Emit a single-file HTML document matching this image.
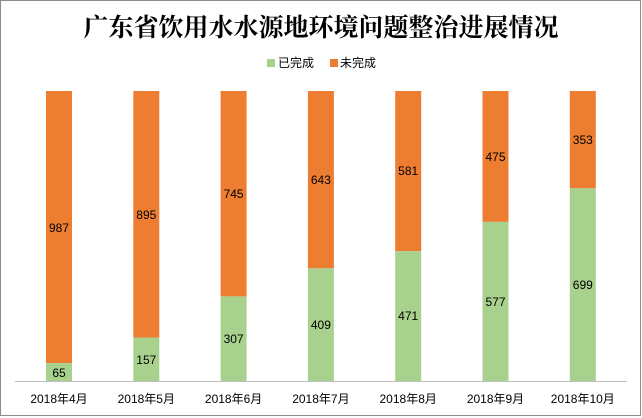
<!DOCTYPE html>
<html><head><meta charset="utf-8"><style>
body{margin:0;background:#fff}
svg{display:block}
text{font-family:"Liberation Sans","Noto Sans CJK SC",sans-serif;font-size:12px;fill:#000}
</style></head><body>
<svg width="642" height="418" viewBox="0 0 642 418" xmlns="http://www.w3.org/2000/svg">
<rect x="0.5" y="0.5" width="640" height="415" fill="#fff" stroke="#8c8c8c"/>
<text x="321" y="36" text-anchor="middle" style="font-family:'Noto Serif CJK SC',serif;font-size:25px;font-weight:bold">广东省饮用水水源地环境问题整治进展情况</text>
<rect x="267" y="59" width="8" height="8" fill="#a9d18e"/>
<text x="278" y="67">已完成</text>
<rect x="330" y="59" width="8" height="8" fill="#ed7d31"/>
<text x="340" y="67">未完成</text>
<g id="bars"></g>
<line x1="15" y1="381.5" x2="627" y2="381.5" stroke="#bfbfbf"/>
<g text-anchor="middle">
<rect x="46" y="91" width="26" height="272.1" fill="#ed7d31"/><rect x="46" y="363.1" width="26" height="17.9" fill="#a9d18e"/>
<text x="59" y="232">987</text><text x="59" y="377">65</text><text x="59" y="403">2018年4月</text>
<rect x="133.3" y="91" width="26" height="246.7" fill="#ed7d31"/><rect x="133.3" y="337.7" width="26" height="43.3" fill="#a9d18e"/>
<text x="146.3" y="219">895</text><text x="146.3" y="364">157</text><text x="146.3" y="403">2018年5月</text>
<rect x="220.6" y="91" width="26" height="205.4" fill="#ed7d31"/><rect x="220.6" y="296.4" width="26" height="84.6" fill="#a9d18e"/>
<text x="233.6" y="198">745</text><text x="233.6" y="343">307</text><text x="233.6" y="403">2018年6月</text>
<rect x="307.9" y="91" width="26" height="177.3" fill="#ed7d31"/><rect x="307.9" y="268.3" width="26" height="112.7" fill="#a9d18e"/>
<text x="320.9" y="184">643</text><text x="320.9" y="329">409</text><text x="320.9" y="403">2018年7月</text>
<rect x="395.2" y="91" width="26" height="160.2" fill="#ed7d31"/><rect x="395.2" y="251.2" width="26" height="129.8" fill="#a9d18e"/>
<text x="408.2" y="175">581</text><text x="408.2" y="320">471</text><text x="408.2" y="403">2018年8月</text>
<rect x="482.5" y="91" width="26" height="130.9" fill="#ed7d31"/><rect x="482.5" y="221.9" width="26" height="159.1" fill="#a9d18e"/>
<text x="495.5" y="161">475</text><text x="495.5" y="306">577</text><text x="495.5" y="403">2018年9月</text>
<rect x="569.8" y="91" width="26" height="97.3" fill="#ed7d31"/><rect x="569.8" y="188.3" width="26" height="192.7" fill="#a9d18e"/>
<text x="582.8" y="144">353</text><text x="582.8" y="289">699</text><text x="582.8" y="403">2018年10月</text>
</g>
</svg>
</body></html>
